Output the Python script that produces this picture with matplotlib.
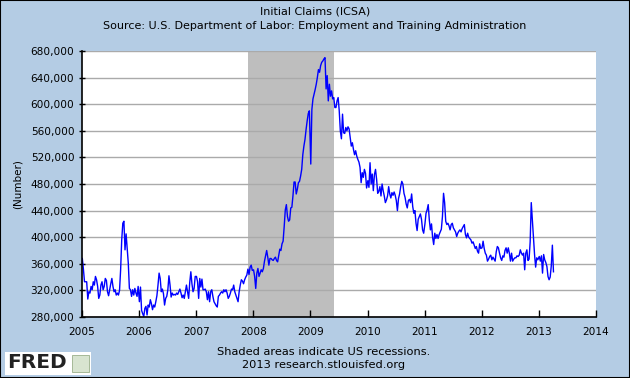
import pandas as pd
import matplotlib
matplotlib.use("Agg")
import matplotlib.pyplot as plt
import matplotlib.dates as mdates
from matplotlib.patches import Rectangle
from matplotlib.ticker import FuncFormatter

# weekly initial claims, thousands (one list per year)
claims_2005 = [368, 352, 333, 333, 333, 307, 318, 316, 326, 321, 333, 328, 341,
               336, 326, 308, 313, 328, 333, 321, 326, 338, 335, 318, 312, 321,
               330, 338, 326, 318, 321, 313, 316, 313, 320, 351, 396, 421, 424,
               381, 405, 384, 361, 323, 321, 311, 321, 313, 323, 316, 311, 326]
claims_2006 = [303, 325, 290, 285, 281, 293, 296, 283, 298, 295, 306, 300, 291,
               298, 295, 303, 312, 328, 346, 338, 318, 322, 315, 298, 308, 311,
               321, 342, 328, 310, 316, 313, 314, 313, 316, 314, 318, 322, 316,
               309, 313, 308, 318, 328, 318, 308, 332, 348, 330, 318, 323, 341]
claims_2007 = [341, 333, 308, 338, 325, 337, 321, 321, 322, 318, 306, 318, 303,
               318, 321, 311, 303, 300, 297, 295, 311, 313, 316, 318, 316, 321,
               318, 321, 316, 308, 311, 316, 322, 321, 328, 318, 313, 308, 303,
               318, 328, 336, 334, 330, 336, 340, 343, 352, 344, 355, 358, 350]
claims_2008 = [351, 341, 323, 346, 353, 341, 346, 351, 348, 353, 364, 372, 380,
               370, 358, 368, 368, 366, 365, 368, 370, 365, 363, 373, 382, 380,
               390, 394, 416, 441, 449, 431, 424, 426, 444, 445, 462, 483, 483,
               465, 472, 482, 484, 492, 502, 524, 537, 547, 562, 575, 586, 590]
claims_2009 = [510, 592, 608, 615, 622, 630, 640, 652, 648, 658, 663, 665, 668,
               670, 623, 643, 605, 630, 612, 620, 608, 610, 595, 595, 605, 610,
               590, 560, 548, 585, 557, 556, 565, 560, 566, 563, 550, 537, 542,
               532, 524, 530, 522, 517, 513, 505, 482, 497, 490, 502, 496, 474]
claims_2010 = [485, 475, 512, 480, 495, 470, 494, 502, 487, 466, 469, 476, 462,
               480, 470, 462, 452, 456, 462, 476, 465, 459, 467, 463, 468, 463,
               455, 440, 458, 465, 476, 484, 480, 466, 460, 450, 444, 455, 457,
               452, 465, 446, 436, 440, 421, 410, 427, 431, 435, 427, 411, 406]
claims_2011 = [420, 436, 441, 449, 426, 411, 420, 400, 389, 406, 398, 404, 398,
               404, 408, 412, 431, 466, 452, 424, 419, 421, 417, 411, 419, 421,
               414, 411, 408, 401, 406, 409, 411, 408, 413, 416, 419, 404, 399,
               406, 400, 398, 396, 391, 393, 388, 383, 386, 379, 376, 390, 383]
claims_2012 = [384, 394, 383, 376, 373, 364, 367, 371, 373, 366, 370, 367, 364,
               378, 386, 384, 376, 369, 365, 372, 370, 380, 384, 376, 384, 376,
               364, 376, 364, 367, 369, 369, 372, 371, 373, 381, 376, 373, 376,
               351, 376, 381, 365, 367, 393, 452, 426, 400, 374, 355, 369, 366]
claims_2013 = [371, 364, 372, 346, 374, 366, 362, 356, 341, 336, 340, 357, 388, 348]

claims_by_year = {
    2005: claims_2005, 2006: claims_2006, 2007: claims_2007,
    2008: claims_2008, 2009: claims_2009, 2010: claims_2010,
    2011: claims_2011, 2012: claims_2012, 2013: claims_2013,
}

recession_start = "2007-12-01"
recession_end = "2009-06-01"

y_ticks = list(range(280000, 680001, 40000))
x_tick_years = list(range(2005, 2015))

BG = "#b4cce4"


def build_series() -> pd.Series:
    parts = []
    for year, vals in claims_by_year.items():
        dates = pd.Timestamp(f"{year}-01-03") + pd.to_timedelta([7 * i for i in range(len(vals))], unit="D")
        parts.append(pd.Series([v * 1000 for v in vals], index=dates))
    return pd.concat(parts)


def main() -> None:
    series = build_series()

    fig = plt.figure(figsize=(6.3, 3.78), dpi=100, facecolor=BG)
    ax = fig.add_axes([82 / 630, 1 - 317 / 378, 514 / 630, 266 / 378])
    ax.set_facecolor("white")

    ax.axvspan(pd.Timestamp(recession_start), pd.Timestamp(recession_end),
               color="#bebebe", zorder=1, lw=0)
    ax.plot(series.index, series.values, color="#0000ff", lw=1.0, zorder=3)

    ax.set_xlim(pd.Timestamp("2005-01-01"), pd.Timestamp("2014-01-01"))
    ax.set_ylim(280000, 680000)
    ax.set_yticks(y_ticks)
    ax.yaxis.set_major_formatter(FuncFormatter(lambda v, p: f"{int(v):,}"))
    ax.set_xticks([pd.Timestamp(f"{y}-01-01") for y in x_tick_years])
    ax.xaxis.set_major_formatter(mdates.DateFormatter("%Y"))

    ax.grid(axis="y", color="#aaaaaa", lw=1.0, zorder=2)
    ax.set_axisbelow(False)
    for s in ["top", "right"]:
        ax.spines[s].set_visible(False)
    for s in ["left", "bottom"]:
        ax.spines[s].set_color("black")
        ax.spines[s].set_linewidth(1.2)
        ax.spines[s].set_zorder(4)

    ax.tick_params(axis="y", direction="inout", length=5, width=1, labelsize=7.6, pad=3)
    ax.tick_params(axis="x", direction="in", length=5, width=1, labelsize=7.6, pad=7)
    ax.set_ylabel("(Number)", fontsize=7.5, labelpad=6)

    fig.text(0.5, 1 - 12 / 378, "Initial Claims (ICSA)", ha="center", va="center", fontsize=8)
    fig.text(0.5, 1 - 26 / 378,
             "Source: U.S. Department of Labor: Employment and Training Administration",
             ha="center", va="center", fontsize=8)
    fig.text(324 / 630, 1 - 352 / 378, "Shaded areas indicate US recessions.",
             ha="center", va="center", fontsize=8.2)
    fig.text(324 / 630, 1 - 365 / 378, "2013 research.stlouisfed.org",
             ha="center", va="center", fontsize=8.2)

    # FRED logo box
    fig.patches.append(Rectangle((5 / 630, 1 - 375 / 378), 86 / 630, 23 / 378,
                                 transform=fig.transFigure, facecolor="white",
                                 edgecolor="none", zorder=5))
    fig.text(7 / 630, 1 - 363 / 378, "FRED", ha="left", va="center", fontsize=14.5,
             fontweight="bold", color="#222222", zorder=6)
    fig.patches.append(Rectangle((72 / 630, 1 - 372 / 378), 17 / 630, 17 / 378,
                                 transform=fig.transFigure, facecolor="#d8e4d0",
                                 edgecolor="#9ab08a", lw=0.6, zorder=6))

    # outer black frame
    fig.patches.append(Rectangle((0, 0), 1, 1, transform=fig.transFigure,
                                 fill=False, edgecolor="black", lw=1.5, zorder=10))

    fig.savefig("out.png", dpi=100, facecolor=BG)


if __name__ == "__main__":
    main()
